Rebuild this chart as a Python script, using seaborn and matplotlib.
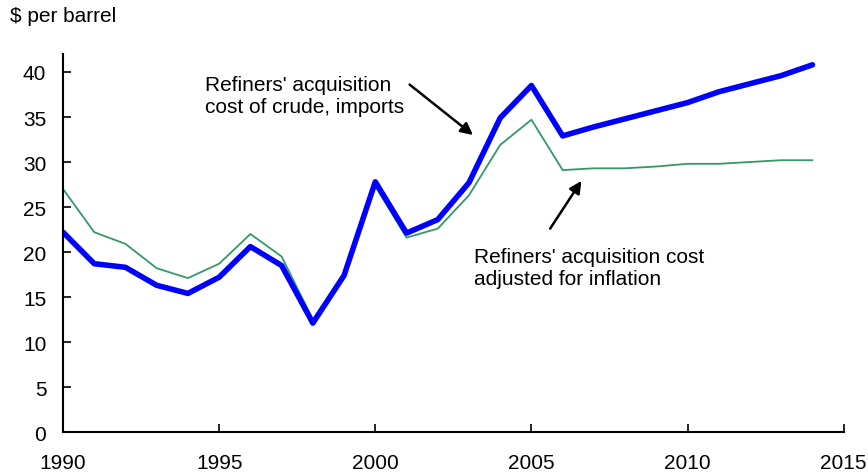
import pandas as pd
import numpy as np
import matplotlib.pyplot as plt
import seaborn as sns

# Data ($ per barrel)
years = list(range(1990, 2015))
nominal = [22.2, 18.7, 18.3, 16.3, 15.4, 17.2, 20.6, 18.5, 12.1, 17.4,
           27.8, 22.1, 23.6, 27.7, 34.9, 38.5, 32.9, 33.9, 34.8, 35.7,
           36.6, 37.8, 38.7, 39.6, 40.8]
real = [27.0, 22.2, 20.9, 18.2, 17.1, 18.7, 22.0, 19.5, 12.5, 17.6,
        27.3, 21.6, 22.6, 26.3, 31.9, 34.7, 29.1, 29.3, 29.3, 29.5,
        29.8, 29.8, 30.0, 30.2, 30.2]
x_ticks = [1990, 1995, 2000, 2005, 2010, 2015]
y_ticks = [0, 5, 10, 15, 20, 25, 30, 35, 40]

sns.set_style("white")
plt.rcParams['font.family'] = ['Liberation Sans', 'DejaVu Sans']
plt.rcParams['text.color'] = 'black'

df = pd.DataFrame({'year': years, 'nominal': nominal, 'real': real})

fig = plt.figure(figsize=(8.68, 4.77), dpi=100)
ax = fig.add_axes([0.0726, 0.0922, 0.8994, 0.7925])

sns.lineplot(data=df, x='year', y='real', ax=ax, color='#339966', linewidth=1.3)
sns.lineplot(data=df, x='year', y='nominal', ax=ax, color='#0000ff', linewidth=4.0)

ax.set_xlim(1990, 2015)
ax.set_ylim(0, 42)
ax.set_xticks(x_ticks)
ax.set_yticks(y_ticks)
ax.set_xlabel('')
ax.set_ylabel('')
sns.despine(ax=ax)
for s in ['left', 'bottom']:
    ax.spines[s].set_color('black')
    ax.spines[s].set_linewidth(1.5)
ax.tick_params(axis='both', direction='in', length=6, width=1.2, colors='black',
               labelsize=15, bottom=True, left=True)
ax.tick_params(axis='x', pad=15)
ax.tick_params(axis='y', pad=12)

fig.text(0.012, 0.965, '$ per barrel', fontsize=15, va='center', ha='left')

ax.text(1994.55, 37.4, "Refiners' acquisition\ncost of crude, imports",
        fontsize=15, va='center', ha='left', linespacing=1.25)
ax.annotate('', xy=(2003.13, 33.0), xytext=(2001.1, 38.6),
            arrowprops=dict(arrowstyle='-|>', color='black', lw=1.8, mutation_scale=18,
                            shrinkA=0, shrinkB=0))
ax.text(2003.15, 18.3, "Refiners' acquisition cost\nadjusted for inflation",
        fontsize=15, va='center', ha='left', linespacing=1.2)
ax.annotate('', xy=(2006.6, 27.9), xytext=(2005.6, 22.6),
            arrowprops=dict(arrowstyle='-|>', color='black', lw=1.8, mutation_scale=18,
                            shrinkA=0, shrinkB=0))

fig.savefig('out.png', dpi=100)
